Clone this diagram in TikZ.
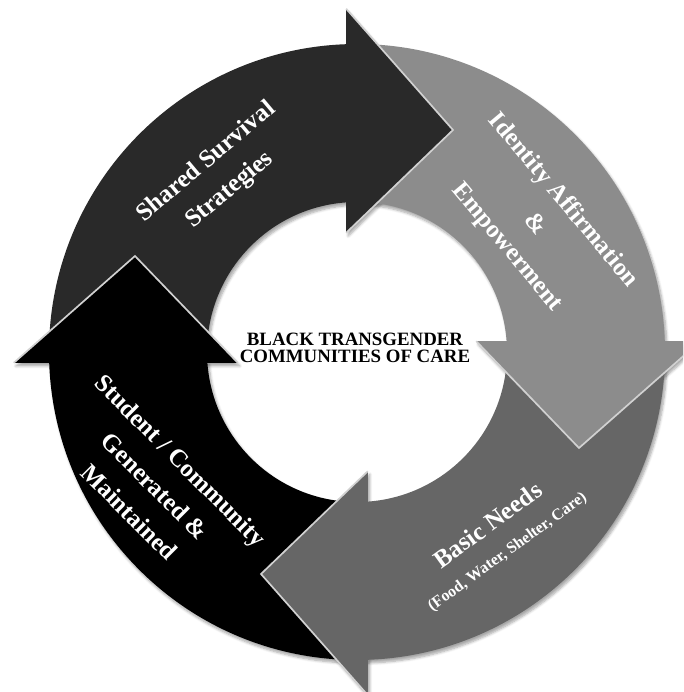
\documentclass[tikz,border=0pt]{standalone}
\usepackage{fontspec}
\setmainfont{Liberation Serif}
\usepackage{tikz}
\usetikzlibrary{calc, shadows.blur}
\colorlet{partI}  {black!84}
\colorlet{partII} {black!45}
\colorlet{partIII}{black!60}
\colorlet{partIV} {black}
\newlength\ringout
\setlength\ringout{7.7cm}
\newlength\ringin
\setlength\ringin {3.75cm}
\newlength\headout
\setlength\headout{8.58cm}
\newlength\headin
\setlength\headin {2.98cm}
\newlength\headback
\setlength\headback{0.27cm}
% one arrow of the cycle, drawn at the top and pointing clockwise
\newcommand\shaftpath{%
  (180:\ringout) arc[start angle=180, end angle=91.6, radius=\ringout]
  -- (93.6:\ringin) arc[start angle=93.6, end angle=180, radius=\ringin] -- cycle}
\newcommand\headpath{%
  (-\headback,\headout) -- (2.4,5.55) -- (-\headback,\headin) -- cycle}
\newcommand\headedge{%
  (-\headback,\headout) -- (2.4,5.55) -- (-\headback,\headin)}
\tikzset{
  softshadow/.style={blur shadow={shadow blur steps=6,
    shadow xshift=0.5mm, shadow yshift=-0.8mm, shadow opacity=35}},
  edgeglow/.style={draw=black!18, line width=1.2pt, line join=miter},
}

\begin{document}
\begin{tikzpicture}[
  arrowtext/.style={text=white, align=center,
                    font=\bfseries\fontsize{17.8}{26}\selectfont}]
\useasboundingbox (-8.925,-8.5) rectangle (8.15,8.8);
\clip (-8.925,-8.5) rectangle (8.15,8.8);
% shadows first, so no piece darkens its neighbour
\foreach \ang in {0,-90,180,90}{
  \path[softshadow, rotate=\ang] \shaftpath;
  \path[softshadow, rotate=\ang] \headpath;
}
% shafts
\fill[partI] \shaftpath;
\fill[partII, rotate=-90] \shaftpath;
\fill[partIII, rotate=180] \shaftpath;
\fill[partIV, rotate=90] \shaftpath;
% heads (they cover the tail of the next shaft)
\fill[partI] \headpath;
\draw[edgeglow] \headedge;
\fill[partII, rotate=-90] \headpath;
\draw[edgeglow, rotate=-90] \headedge;
\fill[partIII, rotate=180] \headpath;
\draw[edgeglow, rotate=180] \headedge;
\fill[partIV, rotate=90] \headpath;
\draw[edgeglow, rotate=90] \headedge;
% texts
\node[arrowtext, rotate=40] (shared) at (128.3:5.6) {Shared Survival\\Strategies};
\node[arrowtext, rotate=-50] (identity) at (35.7:5.48)
  {Identity Affirmation\\\&\\Empowerment};
\node[arrowtext, rotate=36] (basic) at (-53:5.82)
  {Basic Needs\\[-5pt]{\fontsize{11.4}{14}\selectfont (Food, Water, Shelter, Care)}};
\node[arrowtext, rotate=-45] (student) at (213.6:6.06)
  {Student / Community\\Generated \&\\Maintained};
\node[align=center, font=\bfseries\fontsize{13.4}{12.1}\selectfont] (care) at (-0.05,0.1)
  {BLACK TRANSGENDER\\COMMUNITIES OF CARE};
\end{tikzpicture}
\end{document}
